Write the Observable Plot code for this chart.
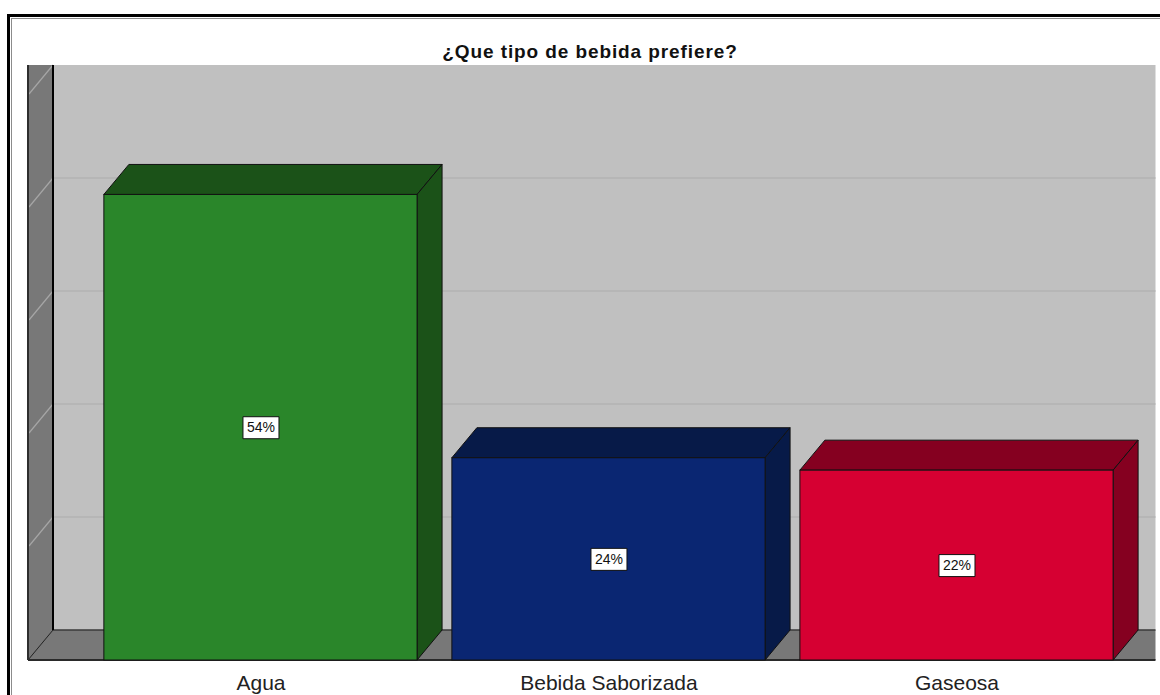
<!DOCTYPE html>
<html><head><meta charset="utf-8">
<script src="https://cdn.jsdelivr.net/npm/d3@7"></script>
<script src="https://cdn.jsdelivr.net/npm/@observablehq/plot@0.6"></script>
<style>
html,body{margin:0;padding:0;background:#fff;}
#wrap{position:relative;width:1160px;height:695px;overflow:hidden;background:#fff;}
#frame{position:absolute;left:7px;top:14px;width:1220px;height:740px;border:3px solid #000;box-sizing:border-box;}
#inner{position:absolute;left:11px;top:18px;width:1220px;height:740px;border:1px solid #8c8c8c;box-sizing:border-box;}
#title{position:absolute;left:0;width:1180px;top:41px;text-align:center;font-family:"Liberation Sans",Arial,sans-serif;font-weight:bold;font-size:19px;letter-spacing:0.9px;color:#111;}
#chart{position:absolute;left:0;top:0;}
</style></head><body>
<div id="wrap"><div id="frame"></div><div id="inner"></div><div id="chart"></div><div id="title">¿Que tipo de bebida prefiere?</div></div>
<script>
// ---- data ----
const categories = ["Agua", "Bebida Saborizada", "Gaseosa"];
const counts = [41.2, 17.9, 16.8];
const percentLabels = ["54%", "24%", "22%"];
const frontColors = ["#2a862a", "#0a2672", "#d60032"];
const shadeColors = ["#1b5218", "#071a48", "#850020"];
const gridValues = [10, 20, 30, 40];
const wallDiagonals = [10, 20, 30, 40, 50];

const rows = categories.map((c, i) => ({
  i, category: c, count: counts[i], label: percentLabels[i],
  front: frontColors[i], shade: shadeColors[i]
}));

// ---- 3D styling ----
const DX = 25, DY = 30, HALF = 0.45;

function scene(index, scales, values, dims) {
  const {x, y} = scales;
  const L = dims.marginLeft, R = dims.width - dims.marginRight, T = dims.marginTop;
  const y0 = y(0);
  const g = d3.create("svg:g");
  g.append("rect").attr("x", L + DX).attr("y", T - DY).attr("width", R - L).attr("height", y0 - T).attr("fill", "#c0c0c0");
  for (const v of gridValues) {
    g.append("line").attr("x1", L + DX).attr("x2", R + DX).attr("y1", y(v) - DY).attr("y2", y(v) - DY)
      .attr("stroke", "#b3b3b3").attr("stroke-width", 1.5);
  }
  g.append("rect").attr("x", L).attr("y", T - DY).attr("width", DX).attr("height", y0 - T + DY).attr("fill", "#787878");
  for (const v of wallDiagonals) {
    g.append("line").attr("x1", L + DX).attr("y1", y(v) - DY).attr("x2", L + 1).attr("y2", y(v) - 1)
      .attr("stroke", "#a6a6a6").attr("stroke-width", 1.2);
  }
  g.append("path").attr("d", `M${L},${y0}L${L + DX},${y0 - DY}L${R + DX},${y0 - DY}L${R + DX},${y0}Z`).attr("fill", "#787878");
  g.append("line").attr("x1", L + DX).attr("x2", R + DX).attr("y1", y0 - DY).attr("y2", y0 - DY).attr("stroke", "#3a3a3a").attr("stroke-width", 1.5);
  g.append("line").attr("x1", L).attr("y1", y0).attr("x2", L + DX).attr("y2", y0 - DY).attr("stroke", "#222").attr("stroke-width", 1);
  g.append("line").attr("x1", L).attr("x2", R + DX).attr("y1", y0).attr("y2", y0).attr("stroke", "#2a2a2a").attr("stroke-width", 2);
  g.append("line").attr("x1", L).attr("x2", L).attr("y1", T - DY).attr("y2", y0).attr("stroke", "#2e2e2e").attr("stroke-width", 2);
  g.append("line").attr("x1", L + DX).attr("x2", L + DX).attr("y1", T - DY).attr("y2", y0 - DY).attr("stroke", "#000").attr("stroke-width", 2);
  return g.node();
}

function barDepth(index, scales) {
  const {x, y} = scales;
  const y0 = y(0);
  const g = d3.create("svg:g");
  for (const d of rows) {
    const xl = x(d.i - HALF), xr = x(d.i + HALF), yt = y(d.count);
    g.append("path").attr("d", `M${xl},${yt}L${xl + DX},${yt - DY}L${xr + DX},${yt - DY}L${xr},${yt}Z`)
      .attr("fill", d.shade).attr("stroke", "#111").attr("stroke-width", 1).attr("stroke-linejoin", "round");
    g.append("path").attr("d", `M${xr},${yt}L${xr + DX},${yt - DY}L${xr + DX},${y0 - DY}L${xr},${y0}Z`)
      .attr("fill", d.shade).attr("stroke", "#111").attr("stroke-width", 1).attr("stroke-linejoin", "round");
  }
  return g.node();
}

const boxSymbol = {draw(ctx) { ctx.rect(-18, -11, 36, 22); }};

const chart = Plot.plot({
  width: 1160,
  height: 695,
  marginLeft: 28,
  marginRight: 29.5,
  marginTop: 95,
  marginBottom: 35,
  x: {domain: [-0.668, 2.5], axis: null},
  y: {domain: [0, 50], axis: null},
  color: {type: "identity"},
  style: {background: "transparent", fontFamily: "'Liberation Sans', Arial, sans-serif", overflow: "visible"},
  marks: [
    scene,
    barDepth,
    Plot.rect(rows, {x1: d => d.i - HALF, x2: d => d.i + HALF, y1: 0, y2: "count", fill: "front", stroke: "#111", strokeWidth: 1}),
    Plot.dot(rows, {x: "i", y: d => d.count / 2, symbol: boxSymbol, fill: "white", stroke: "#111", strokeWidth: 1}),
    Plot.text(rows, {x: "i", y: d => d.count / 2, text: "label", fontSize: 14, fill: "#111"}),
    Plot.text(rows, {x: "i", y: 0, text: "category", dy: 29, lineAnchor: "bottom", fontSize: 21, fill: "#222"})
  ]
});
document.getElementById("chart").appendChild(chart);
</script>
</body></html>
